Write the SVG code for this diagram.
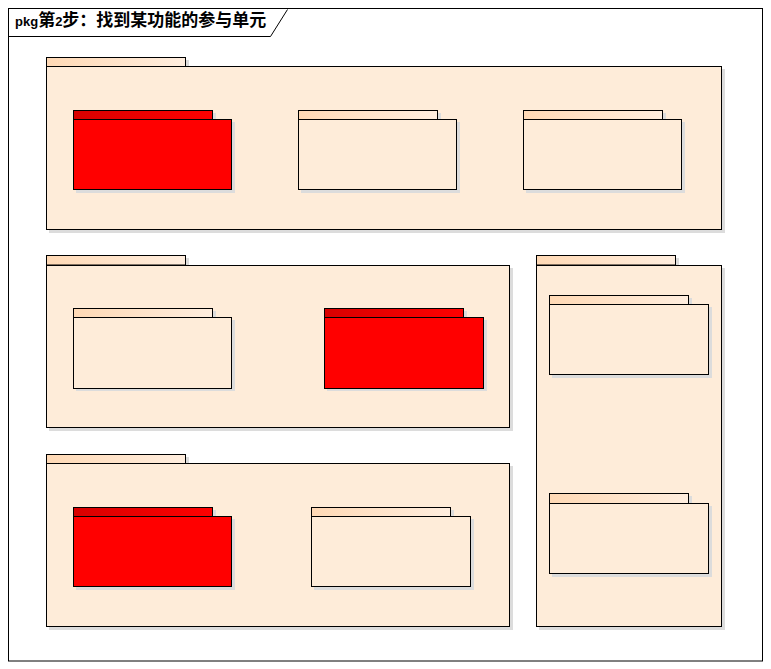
<svg xmlns="http://www.w3.org/2000/svg" width="771" height="669" viewBox="0 0 771 669">
<defs>
<linearGradient id="gTab" x1="0" y1="0" x2="1" y2="0"><stop offset="0" stop-color="#FFD9B5"/><stop offset="1" stop-color="#FFEEDF"/></linearGradient>
<linearGradient id="gRedTab" x1="0" y1="0" x2="1" y2="0"><stop offset="0" stop-color="#D80000"/><stop offset="1" stop-color="#FF0000"/></linearGradient>
<style>
.sh{fill:#DCDCDC;stroke:none}
.bd{fill:#FEECD9;stroke:#000;stroke-width:1}
.tb{fill:url(#gTab);stroke:#000;stroke-width:1}
.rbd{fill:#FF0000;stroke:#000;stroke-width:1}
.rtb{fill:url(#gRedTab);stroke:#000;stroke-width:1}
.frame{fill:#FFFFFF;stroke:#000;stroke-width:1}
.t{font-family:"Liberation Sans","Noto Sans CJK SC",sans-serif;font-weight:bold;fill:#000}
</style>
</defs>
<rect x="0" y="0" width="771" height="669" fill="#FFFFFF"/>
<g id="frame">
<rect class="frame" x="8.5" y="8.5" width="754" height="652.5"/>
<path d="M8.5,36.5 H270.5 L287.5,9.5" fill="none" stroke="#000" stroke-width="1"/>
<text class="t" x="15" y="26"><tspan font-size="13">pkg</tspan><tspan font-size="17">第</tspan><tspan font-size="13">2</tspan><tspan font-size="17">步：找到某功能的参与单元</tspan></text>
</g>
<g id="pkg1">
<rect class="sh" x="49" y="60" width="140" height="9"/><rect class="sh" x="49" y="69" width="676" height="164"/>
<rect class="tb" x="46.5" y="57.5" width="139" height="9"/><rect class="bd" x="46.5" y="66.5" width="675" height="163"/>
</g>
<g id="pkg1a">
<rect class="sh" x="76" y="113" width="140" height="9"/><rect class="sh" x="76" y="122" width="159" height="71"/>
<rect class="rtb" x="73.5" y="110.5" width="139" height="9"/><rect class="rbd" x="73.5" y="119.5" width="158" height="70"/>
</g>
<g id="pkg1b">
<rect class="sh" x="301" y="113" width="140" height="9"/><rect class="sh" x="301" y="122" width="159" height="71"/>
<rect class="tb" x="298.5" y="110.5" width="139" height="9"/><rect class="bd" x="298.5" y="119.5" width="158" height="70"/>
</g>
<g id="pkg1c">
<rect class="sh" x="526" y="113" width="140" height="9"/><rect class="sh" x="526" y="122" width="159" height="71"/>
<rect class="tb" x="523.5" y="110.5" width="139" height="9"/><rect class="bd" x="523.5" y="119.5" width="158" height="70"/>
</g>
<g id="pkg2">
<rect class="sh" x="49" y="258" width="140" height="9"/><rect class="sh" x="49" y="268" width="464" height="163"/>
<rect class="tb" x="46.5" y="255.5" width="139" height="9.5"/><rect class="bd" x="46.5" y="265.5" width="463" height="162"/>
</g>
<g id="pkg2a">
<rect class="sh" x="76" y="311" width="140" height="9"/><rect class="sh" x="76" y="320" width="159" height="71"/>
<rect class="tb" x="73.5" y="308.5" width="139" height="9"/><rect class="bd" x="73.5" y="317.5" width="158" height="71"/>
</g>
<g id="pkg2b">
<rect class="sh" x="327" y="311" width="140" height="9"/><rect class="sh" x="327" y="320" width="160" height="71"/>
<rect class="rtb" x="324.5" y="308.5" width="139" height="9"/><rect class="rbd" x="324.5" y="317.5" width="159" height="71"/>
</g>
<g id="pkg3">
<rect class="sh" x="49" y="457" width="140" height="9"/><rect class="sh" x="49" y="466" width="464" height="164"/>
<rect class="tb" x="46.5" y="454.5" width="139" height="9"/><rect class="bd" x="46.5" y="463.5" width="463" height="163"/>
</g>
<g id="pkg3a">
<rect class="sh" x="76" y="510" width="140" height="9"/><rect class="sh" x="76" y="519" width="159" height="71"/>
<rect class="rtb" x="73.5" y="507.5" width="139" height="9"/><rect class="rbd" x="73.5" y="516.5" width="158" height="70"/>
</g>
<g id="pkg3b">
<rect class="sh" x="314" y="510" width="140" height="9"/><rect class="sh" x="314" y="519" width="160" height="71"/>
<rect class="tb" x="311.5" y="507.5" width="139" height="9"/><rect class="bd" x="311.5" y="516.5" width="159" height="70"/>
</g>
<g id="pkg4">
<rect class="sh" x="539" y="258" width="140" height="9"/><rect class="sh" x="539" y="268" width="186" height="362"/>
<rect class="tb" x="536.5" y="255.5" width="139" height="9.5"/><rect class="bd" x="536.5" y="265.5" width="185" height="361"/>
</g>
<g id="pkg4a">
<rect class="sh" x="552" y="298" width="140" height="9"/><rect class="sh" x="552" y="307" width="160" height="71"/>
<rect class="tb" x="549.5" y="295.5" width="139" height="9"/><rect class="bd" x="549.5" y="304.5" width="159" height="70"/>
</g>
<g id="pkg4b">
<rect class="sh" x="552" y="496" width="140" height="9"/><rect class="sh" x="552" y="506" width="160" height="71"/>
<rect class="tb" x="549.5" y="493.5" width="139" height="10"/><rect class="bd" x="549.5" y="503.5" width="159" height="70"/>
</g>
<g id="connectors"></g>
</svg>
